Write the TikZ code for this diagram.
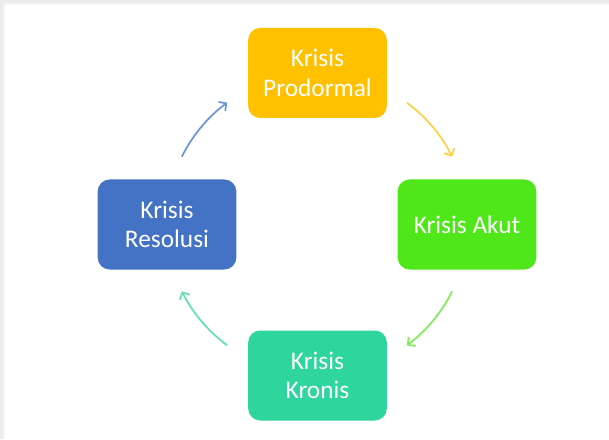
\documentclass[tikz,border=0pt]{standalone}
\usepackage{fontspec}
\setmainfont{Carlito}
\usetikzlibrary{arrows.meta,calc}
\definecolor{cyel}{HTML}{FFC000}
\definecolor{cblu}{HTML}{4472C4}
\definecolor{cgrn}{HTML}{4FE61A}
\definecolor{cteal}{HTML}{2ED69E}
\definecolor{ayel}{HTML}{FFD046}
\definecolor{ablu}{HTML}{6E94D8}
\definecolor{agrn}{HTML}{7FEC5A}
\definecolor{ateal}{HTML}{62E0B6}
\begin{document}
\begin{tikzpicture}[x=0.75pt,y=0.75pt,
  stagebox/.style={rounded corners=9pt, minimum width=104pt, minimum height=67.5pt,
    text=white, align=center, inner sep=0pt,
    font=\fontsize{19}{22}\selectfont},
  cyclearrow/.style={line width=1.3pt, -{Straight Barb[length=4pt,width=8.5pt,line width=1.3pt]}}]
\useasboundingbox (0,0) rectangle (609,439);
\fill[black!8] (0,0) rectangle (609,439);
\fill[black!4] (3,0) rectangle (609,436);
\fill[white] (5,0) rectangle (609,434);
\coordinate (c) at (317,215);
\node[stagebox, fill=cyel] (prod) at (317.5,366) {Krisis\\Prodormal};
\node[stagebox, fill=cgrn] (akut) at (467,214.5) {Krisis Akut};
\node[stagebox, fill=cteal] (kron) at (317.5,63.5) {Krisis\\Kronis};
\node[stagebox, fill=cblu] (reso) at (167,214.5) {Krisis\\Resolusi};
\coordinate (a1) at ($(c)+(153.5:151)$);
\coordinate (a2) at ($(c)+(53.5:151)$);
\coordinate (a3) at ($(c)+(-26.5:151)$);
\coordinate (a4) at ($(c)+(-126.5:151)$);
\draw[cyclearrow, ablu] (a1) arc[start angle=153.5, end angle=126.5, radius=151];
\draw[cyclearrow, ayel] (a2) arc[start angle=53.5, end angle=26.5, radius=151];
\draw[cyclearrow, agrn] (a3) arc[start angle=-26.5, end angle=-53.5, radius=151];
\draw[cyclearrow, ateal] (a4) arc[start angle=-126.5, end angle=-153.5, radius=151];
\end{tikzpicture}
\end{document}
